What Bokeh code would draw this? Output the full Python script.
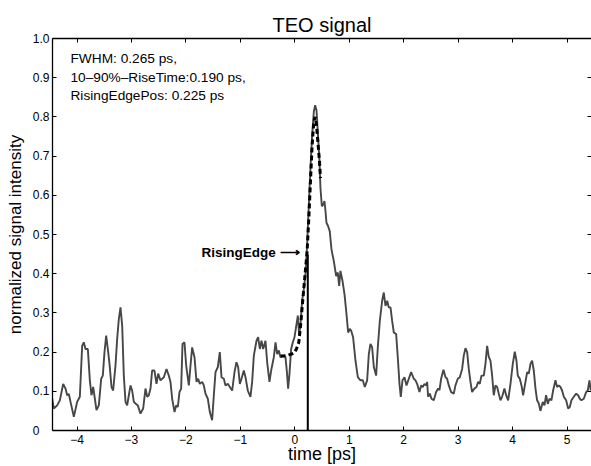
from bokeh.plotting import figure
from bokeh.models import Range1d, LinearAxis, FixedTicker, Label
from bokeh.embed import file_html
from bokeh.resources import INLINE

# ---- data ----
seg1_t = [-4.456,-4.426,-4.364,-4.315,-4.254,-4.211,-4.181,-4.150,-4.119,-4.058,-3.997,-3.948,-3.905,-3.875,-3.844,-3.801,-3.764,-3.734,-3.703,-3.672,-3.642,-3.599,-3.556,-3.526,-3.495,-3.464,-3.434,-3.403,-3.366,-3.336,-3.293,-3.262,-3.232,-3.201,-3.170,-3.140,-3.109,-3.079,-3.048,-3.017,-2.987,-2.956,-2.926,-2.883,-2.834,-2.785,-2.742,-2.711,-2.681,-2.650,-2.620,-2.577,-2.540,-2.509,-2.467,-2.405,-2.356,-2.314]
seg1_s = [.081,.056,.064,.077,.119,.107,.090,.093,.073,.035,.073,.086,.216,.225,.208,.208,.128,.090,.111,.081,.052,.064,.132,.140,.200,.242,.208,.170,.111,.102,.166,.234,.284,.314,.267,.140,.073,.064,.090,.115,.102,.073,.069,.064,.043,.056,.107,.086,.090,.107,.153,.153,.119,.145,.128,.136,.157,.140]

seg2_t = [-2.283,-2.252,-2.209,-2.179,-2.148,-2.118,-2.087,-2.062,-2.026,-1.995,-1.946,-1.915,-1.885,-1.842,-1.805,-1.775,-1.744,-1.701,-1.671,-1.640,-1.597,-1.560,-1.518,-1.487,-1.456,-1.413,-1.377,-1.346,-1.303,-1.273,-1.230,-1.193,-1.150,-1.107,-1.071,-1.040,-1.009,-0.979,-0.936,-0.905,-0.863,-0.814,-0.783,-0.752,-0.703,-0.673,-0.642,-0.611,-0.581,-0.538,-0.507,-0.465,-0.434,-0.385,-0.354,-0.324,-0.293]
seg2_s = [.124,.081,.047,.064,.060,.098,.107,.221,.225,.166,.115,.166,.212,.187,.124,.132,.119,.124,.115,.094,.081,.047,.026,.090,.149,.162,.200,.136,.132,.115,.119,.111,.102,.149,.174,.162,.119,.132,.153,.136,.102,.086,.124,.191,.229,.238,.208,.229,.208,.229,.174,.124,.153,.187,.225,.195,.204]

seg3_t = [-0.263,-0.214,-0.171,-0.145,-0.122,-0.097,-0.067,-0.036,-0.005,0.025,0.056,0.080,0.105,0.135,0.165,0.197,0.227,0.258,0.288,0.319,0.350,0.374,0.399,0.423,0.454,0.472,0.497,0.521,0.545,0.564,0.582,0.613,0.643,0.674,0.717,0.760,0.790,0.815,0.839,0.876,0.913,0.950,0.980,1.011,1.035,1.072,1.115,1.158,1.207,1.250,1.286,1.329,1.360,1.390,1.421,1.452,1.494,1.525,1.562,1.605,1.635,1.666,1.697,1.727,1.758,1.788,1.819,1.862,1.892,1.923,1.947,1.978,2.015,2.052,2.094,2.137,2.186]
seg3_s = [.187,.191,.187,.150,.107,.145,.208,.225,.238,.265,.293,.245,.270,.331,.360,.398,.475,.576,.669,.754,.813,.830,.817,.762,.686,.618,.572,.576,.585,.560,.530,.521,.508,.462,.432,.394,.403,.369,.407,.382,.348,.297,.250,.259,.255,.237,.178,.136,.128,.128,.111,.128,.195,.221,.212,.162,.140,.212,.280,.331,.352,.318,.331,.314,.314,.280,.250,.246,.187,.119,.086,.128,.136,.115,.132,.149,.132]

seg4_t = [2.217,2.247,2.290,2.321,2.351,2.382,2.413,2.431,2.449,2.480,2.511,2.553,2.596,2.633,2.658,2.688,2.731,2.768,2.798,2.829,2.872,2.921,2.951,2.994,3.031,3.074,3.104,3.135,3.166,3.196,3.227,3.257,3.300,3.337,3.368,3.398,3.429,3.472,3.502,3.533,3.564,3.594,3.625,3.655,3.686,3.717,3.747,3.778,3.808,3.851,3.882,3.919,3.962,4.004,4.041,4.072,4.096,4.133,4.164,4.194,4.237,4.268,4.298,4.329,4.359,4.390,4.421,4.451,4.482,4.512,4.555,4.586,4.616,4.647,4.678,4.714,4.745,4.788,4.818,4.849,4.880,4.910,4.941,4.984,5.021,5.051,5.082,5.125,5.168,5.204,5.235,5.265,5.308,5.351,5.382,5.412,5.437]
seg4_s = [.128,.119,.098,.115,.111,.119,.115,.124,.086,.094,.081,.077,.098,.107,.103,.132,.155,.136,.132,.115,.098,.094,.115,.132,.136,.157,.191,.210,.200,.157,.124,.098,.107,.111,.124,.119,.140,.140,.170,.216,.187,.178,.140,.090,.115,.111,.094,.077,.086,.107,.090,.077,.119,.170,.201,.178,.140,.132,.115,.090,.124,.149,.145,.170,.178,.153,.107,.077,.069,.050,.073,.064,.090,.068,.081,.077,.102,.128,.111,.115,.111,.102,.086,.077,.056,.060,.077,.086,.094,.090,.081,.077,.081,.098,.102,.128,.102]

fit_t = [-0.26,-0.21,-0.16,-0.11,-0.06,-0.01,0.03,0.074,0.105,0.135,0.178,0.227,0.258,0.288,0.319,0.350,0.374,0.399,0.429,0.454,0.472]
fit_s = [.190,.190,.191,.193,.195,.198,.208,.225,.265,.314,.381,.458,.542,.635,.728,.788,.800,.779,.728,.686,.644]

edge_t = [0.239]
edge_s = [0.449]

xticks = [-4, -3, -2, -1, 0, 1, 2, 3, 4, 5]
xtick_labels = ["\u22124", "\u22123", "\u22122", "\u22121", "0", "1", "2", "3", "4", "5"]
yticks = [0, 0.1, 0.2, 0.3, 0.4, 0.5, 0.6, 0.7, 0.8, 0.9, 1.0]
ytick_labels = ["0\u2008\u2007", "0.1", "0.2", "0.3", "0.4", "0.5", "0.6", "0.7", "0.8", "0.9", "1.0"]

title_text = "TEO signal"
x_label = "time [ps]"
y_label = "normalized signal intensity"
info_lines = ["FWHM: 0.265 ps,", "10\u201390%\u2013RiseTime:0.190 ps,", "RisingEdgePos: 0.225 ps"]
edge_label = "RisingEdge \u27f6"

for a, b in [(seg1_t, seg1_s), (seg2_t, seg2_s), (seg3_t, seg3_s), (seg4_t, seg4_s)]:
    assert len(a) == len(b), (len(a), len(b))

time_ps = seg1_t + seg2_t + seg3_t + seg4_t
signal = seg1_s + seg2_s + seg3_s + seg4_s

FONT = "Liberation Sans"
X0, X1 = -4.45, 5.45

p = figure(width=591, height=466, x_range=Range1d(X0, X1), y_range=Range1d(0, 1),
           output_backend="svg", toolbar_location=None, title=title_text,
           x_axis_label=x_label, y_axis_label=y_label,
           min_border_left=52, min_border_right=0, min_border_top=38, min_border_bottom=34)
p.grid.visible = False
p.outline_line_color = None
p.background_fill_color = "white"
p.border_fill_color = "white"

p.title.align = "center"
p.title.text_font = FONT
p.title.text_font_size = "20px"
p.title.text_font_style = "normal"
p.title.text_color = "black"
p.title.standoff = 6

def style_axis(ax):
    ax.major_tick_in = 4
    ax.major_tick_out = 0
    ax.minor_tick_line_color = None
    ax.axis_line_color = "black"
    ax.axis_line_width = 1.3
    ax.major_tick_line_color = "black"
    ax.major_tick_line_width = 1
    ax.major_label_text_font = FONT
    ax.major_label_text_font_size = "12px"
    ax.major_label_text_color = "black"
    ax.axis_label_text_font = FONT
    ax.axis_label_text_font_style = "normal"
    ax.axis_label_text_color = "black"

xa = p.xaxis[0]
style_axis(xa)
xa.ticker = FixedTicker(ticks=xticks)
xa.major_label_overrides = dict(zip(xticks, xtick_labels))
xa.major_label_standoff = 4
xa.axis_label_text_font_size = "18px"
xa.axis_label_standoff = -3

ya = p.yaxis[0]
style_axis(ya)
ya.ticker = FixedTicker(ticks=yticks)
ya.major_label_overrides = dict(zip(yticks, ytick_labels))
ya.major_label_standoff = 3
ya.axis_label_text_font_size = "17px"
ya.axis_label_standoff = 5

top = LinearAxis(ticker=FixedTicker(ticks=xticks))
style_axis(top)
top.major_label_overrides = {t: "" for t in xticks}
top.major_label_text_font_size = "1px"
top.major_label_standoff = 0
p.add_layout(top, "above")

right = LinearAxis(ticker=FixedTicker(ticks=yticks))
style_axis(right)
right.axis_line_color = None
right.major_label_overrides = {t: "" for t in yticks}
right.major_label_text_font_size = "1px"
right.major_label_standoff = 0
p.add_layout(right, "right")

p.line(time_ps, signal, line_color="#474747", line_width=1.9)
p.line(fit_t, fit_s, line_color="black", line_width=3, line_dash="5 3")
p.segment(x0=edge_t, y0=[0], x1=edge_t, y1=edge_s, line_color="black", line_width=2)

for i, txt in enumerate(info_lines):
    p.add_layout(Label(x=-4.12, y=0.949 - 0.0475 * i, text=txt, text_font=FONT,
                       text_font_size="13.7px", text_baseline="middle", text_color="black"))

p.add_layout(Label(x=edge_t[0] - 0.15, y=edge_s[0] + 0.006, text=edge_label, text_font=FONT,
                   text_font_size="13.5px", text_font_style="bold", text_align="right",
                   text_baseline="middle", text_color="black"))

open("out.html", "w").write(file_html(p, INLINE))
